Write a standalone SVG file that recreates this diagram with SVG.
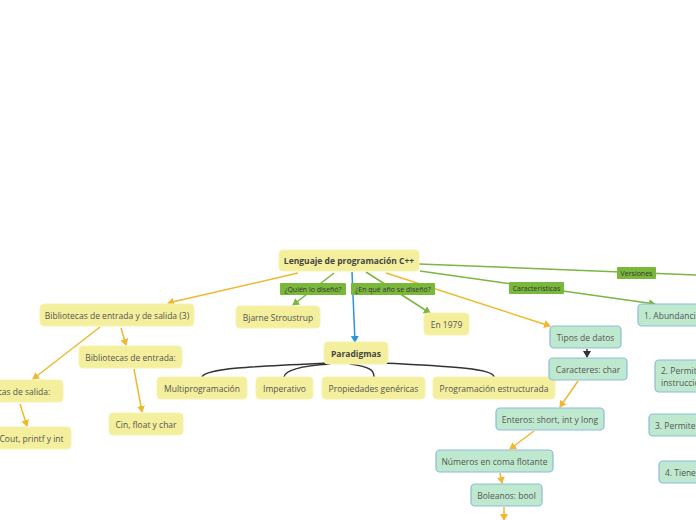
<svg xmlns="http://www.w3.org/2000/svg" width="696" height="520" viewBox="0 0 696 520">
<style>
.y{fill:#f4ef9c;stroke:#f7f2b0;stroke-width:1}
.g{fill:#bfe9cf;stroke:#8cbbd9;stroke-width:1.2}
.lab{fill:#7ab83c}
text{font-family:"Open Sans","Noto Sans",sans-serif;font-size:8.5px;fill:#555;text-anchor:middle;dominant-baseline:central}
.b{font-weight:bold;fill:#444}
.s{font-size:7px;fill:#333}
.ly{stroke:#f0b830;stroke-width:1.5;fill:none;marker-end:url(#ay)}
.lg{stroke:#7ab640;stroke-width:1.5;fill:none}
.lk{stroke:#333;stroke-width:1.5;fill:none}
</style>
<defs>
<marker id="ay" markerWidth="8" markerHeight="8" refX="6" refY="4" orient="auto" markerUnits="userSpaceOnUse"><path d="M0,0L7,4L0,8z" fill="#f0b830"/></marker>
<marker id="ag" markerWidth="8" markerHeight="8" refX="6" refY="4" orient="auto" markerUnits="userSpaceOnUse"><path d="M0,0L7,4L0,8z" fill="#7ab640"/></marker>
<marker id="ab" markerWidth="8" markerHeight="8" refX="6" refY="4" orient="auto" markerUnits="userSpaceOnUse"><path d="M0,0L7,4L0,8z" fill="#2a95d8"/></marker>
<marker id="ak" markerWidth="8" markerHeight="8" refX="6" refY="4" orient="auto" markerUnits="userSpaceOnUse"><path d="M0,0L7,4L0,8z" fill="#333"/></marker>
</defs>
<g id="connectors">
<path class="lg" d="M419,264 L696,275"/>
<path class="lg" d="M420,271 L655,304" marker-end="url(#ag)"/>
<path class="lg" d="M334,273 L293,305" marker-end="url(#ag)"/>
<path class="lg" d="M366,272 L430,313" marker-end="url(#ag)"/>
<path d="M352,272 L355,342" stroke="#2a95d8" stroke-width="1.5" marker-end="url(#ab)"/>
<path class="ly" d="M298,273 L168,303"/>
<path class="ly" d="M386,273 L550,326"/>
<path class="lk" d="M328,363 C260,366 205,368 202,377"/>
<path class="lk" d="M330,364 C300,366 285,370 284,377"/>
<path class="lk" d="M350,364 C372,367 374,371 374,377"/>
<path class="lk" d="M385,363 C440,366 494,368 494,377"/>
<path class="ly" d="M100,327 L33,379"/>
<path class="ly" d="M121,328 L126,345"/>
<path class="ly" d="M134,369 L142,412"/>
<path class="ly" d="M20,404 L27,426"/>
<path d="M587,349 L587,357" stroke="#333" stroke-width="1.5" marker-end="url(#ak)"/>
<path class="ly" d="M578,381 L560,407"/>
<path class="ly" d="M534,431 L510,449"/>
<path class="ly" d="M500,473 L502,483"/>
<path class="ly" d="M504,507 L504,520"/>
</g>
<g id="lab1"><rect class="lab" x="280" y="283" width="66" height="12" rx="1"/><text class="s" x="313" y="289">¿Quién lo diseñó?</text></g>
<g id="lab2"><rect class="lab" x="351" y="283" width="84" height="12" rx="1"/><text class="s" x="393" y="289">¿En qué año se diseñó?</text></g>
<g id="lab3"><rect class="lab" x="509" y="282" width="55" height="12" rx="1"/><text class="s" x="536.5" y="288">Características</text></g>
<g id="lab4"><rect class="lab" x="617" y="267" width="39" height="12" rx="1"/><text class="s" x="636.5" y="273">Versiones</text></g>
<g id="root"><rect class="y" x="279" y="250" width="140" height="21" rx="4"/><text class="b" x="349" y="260.5">Lenguaje de programación C++</text></g>
<g id="bib"><rect class="y" x="40" y="304" width="154" height="22" rx="4"/><text x="117" y="315">Bibliotecas de entrada y de salida (3)</text></g>
<g id="bjarne"><rect class="y" x="236" y="306" width="84" height="22" rx="4"/><text x="278" y="317">Bjarne Stroustrup</text></g>
<g id="paradigmas"><rect class="y" x="324" y="342" width="64" height="22" rx="4"/><text class="b" x="356" y="353">Paradigmas</text></g>
<g id="anio"><rect class="y" x="424" y="313" width="45" height="22" rx="4"/><text x="446.5" y="324">En 1979</text></g>
<g id="bibent"><rect class="y" x="79" y="346" width="103" height="22" rx="4"/><text x="130.5" y="357">Bibliotecas de entrada:</text></g>
<g id="bibsal"><rect class="y" x="-45" y="380" width="108" height="22" rx="4"/><text x="9" y="391">Bibliotecas de salida:</text></g>
<g id="cin"><rect class="y" x="109" y="413" width="74" height="22" rx="4"/><text x="146" y="424">Cin, float y char</text></g>
<g id="cout"><rect class="y" x="-8" y="427" width="79" height="22" rx="4"/><text x="31.5" y="438">Cout, printf y int</text></g>
<g id="multi"><rect class="y" x="157" y="377" width="90" height="22" rx="4"/><text x="202" y="388">Multiprogramación</text></g>
<g id="imper"><rect class="y" x="256" y="377" width="57" height="22" rx="4"/><text x="284.5" y="388">Imperativo</text></g>
<g id="prop"><rect class="y" x="322" y="377" width="103" height="22" rx="4"/><text x="373.5" y="388">Propiedades genéricas</text></g>
<g id="estr"><rect class="y" x="433" y="377" width="122" height="22" rx="4"/><text x="494" y="388">Programación estructurada</text></g>
<g id="tipos"><rect class="g" x="550" y="326" width="71" height="22" rx="4"/><text x="585.5" y="337">Tipos de datos</text></g>
<g id="char"><rect class="g" x="549" y="358" width="78" height="22" rx="4"/><text x="588" y="369">Caracteres: char</text></g>
<g id="enteros"><rect class="g" x="496" y="408" width="108" height="22" rx="4"/><text x="550" y="419">Enteros: short, int y long</text></g>
<g id="float"><rect class="g" x="436" y="450" width="117" height="22" rx="4"/><text x="494.5" y="461">Números en coma flotante</text></g>
<g id="bool"><rect class="g" x="471" y="484" width="71" height="22" rx="4"/><text x="506.5" y="495">Boleanos: bool</text></g>
<g id="c1"><rect class="g" x="638" y="304" width="70" height="22" rx="4"/><text x="644" y="315" style="text-anchor:start">1. Abundancia</text></g>
<g id="c2"><rect class="g" x="655" y="360" width="55" height="32" rx="4"/><text x="661" y="370" style="text-anchor:start">2. Permite</text><text x="661" y="382" style="text-anchor:start">instrucciones</text></g>
<g id="c3"><rect class="g" x="649" y="414" width="60" height="22" rx="4"/><text x="655" y="425" style="text-anchor:start">3. Permite</text></g>
<g id="c4"><rect class="g" x="659" y="461" width="50" height="22" rx="4"/><text x="665" y="472" style="text-anchor:start">4. Tiene</text></g>
</svg>
